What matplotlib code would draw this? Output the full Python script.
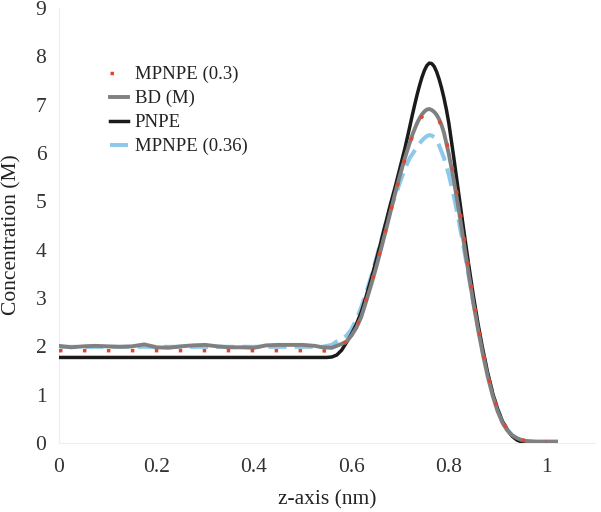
import matplotlib
matplotlib.use("Agg")
import matplotlib.pyplot as plt

SERIF = 'Liberation Serif'
plt.rcParams['font.family'] = 'serif'
plt.rcParams['font.serif'] = [SERIF, 'DejaVu Serif']

# ---- data ----
x_bd = [0.0, 0.025, 0.05, 0.075, 0.1, 0.125, 0.15, 0.175, 0.2, 0.225, 0.25, 0.275, 0.3,
        0.325, 0.35, 0.375, 0.4, 0.425, 0.45, 0.475, 0.5, 0.525, 0.54, 0.56, 0.58, 0.59,
        0.60, 0.61, 0.62, 0.63, 0.64, 0.65, 0.66, 0.67, 0.68, 0.69, 0.70, 0.71, 0.72, 0.725,
        0.73, 0.735, 0.74, 0.745, 0.75, 0.755, 0.76, 0.765, 0.77, 0.775, 0.78, 0.785, 0.79,
        0.80, 0.81, 0.82, 0.83, 0.84, 0.85, 0.86, 0.87, 0.88, 0.89, 0.90, 0.91, 0.92, 0.93,
        0.94, 0.95, 0.96, 0.98, 1.00, 1.02]
y_bd = [2.01, 1.98, 2.00, 2.01, 2.00, 1.99, 2.00, 2.04, 1.98, 1.97, 2.00, 2.02, 2.03,
        2.00, 1.98, 1.98, 1.97, 2.02, 2.03, 2.03, 2.03, 2.01, 1.98, 1.97, 2.05, 2.10,
        2.22, 2.38, 2.60, 2.92, 3.25, 3.60, 3.98, 4.37, 4.77, 5.17, 5.55, 5.90, 6.22, 6.37,
        6.50, 6.62, 6.72, 6.80, 6.86, 6.90, 6.91, 6.89, 6.85, 6.79, 6.70, 6.58, 6.42,
        5.98, 5.45, 4.85, 4.20, 3.55, 2.92, 2.35, 1.83, 1.37, 0.98, 0.66, 0.42, 0.26, 0.16,
        0.10, 0.06, 0.04, 0.03, 0.03, 0.03]

x_pnpe = [0.0, 0.55, 0.56, 0.57, 0.58, 0.59, 0.60, 0.61, 0.62, 0.63, 0.64, 0.65, 0.66, 0.67,
          0.68, 0.69, 0.70, 0.71, 0.72, 0.725, 0.73, 0.735, 0.74, 0.745, 0.75, 0.755, 0.76,
          0.765, 0.77, 0.775, 0.78, 0.785, 0.79, 0.795, 0.80, 0.81, 0.82, 0.83, 0.84, 0.85,
          0.86, 0.87, 0.88, 0.89, 0.90, 0.91, 0.92, 0.93, 0.94, 0.95, 0.96]
y_pnpe = [1.77, 1.77, 1.78, 1.82, 1.92, 2.08, 2.25, 2.45, 2.70, 3.02, 3.37, 3.74, 4.13, 4.53,
          4.93, 5.30, 5.70, 6.10, 6.55, 6.78, 7.00, 7.21, 7.40, 7.57, 7.71, 7.81, 7.86,
          7.85, 7.79, 7.68, 7.53, 7.35, 7.14, 6.90, 6.62, 5.92, 5.18, 4.45, 3.74, 3.07,
          2.46, 1.92, 1.44, 1.03, 0.70, 0.45, 0.27, 0.14, 0.06, 0.02, 0.01]

x_mp30 = [0.0, 0.54, 0.55, 0.56, 0.57, 0.58, 0.59, 0.60, 0.61, 0.62, 0.63, 0.64, 0.65, 0.66,
          0.67, 0.68, 0.69, 0.70, 0.71, 0.72, 0.73, 0.74, 0.745, 0.75, 0.755, 0.76, 0.765,
          0.77, 0.775, 0.78, 0.79, 0.80, 0.81, 0.82, 0.83, 0.84, 0.85, 0.86, 0.87, 0.88,
          0.89, 0.90, 0.91, 0.92, 0.93, 0.94, 0.95, 0.97, 1.00]
y_mp30 = [1.91, 1.91, 1.90, 1.90, 1.93, 2.00, 2.10, 2.22, 2.40, 2.62, 2.95, 3.28, 3.63, 4.00,
          4.38, 4.77, 5.16, 5.53, 5.88, 6.20, 6.47, 6.68, 6.75, 6.80, 6.83, 6.83, 6.82,
          6.79, 6.74, 6.67, 6.44, 6.05, 5.56, 4.98, 4.34, 3.68, 3.03, 2.44, 1.90, 1.42,
          1.02, 0.70, 0.45, 0.28, 0.17, 0.10, 0.06, 0.03, 0.03]

x_mp36 = [0.0, 0.54, 0.56, 0.57, 0.58, 0.59, 0.60, 0.61, 0.62, 0.63, 0.64, 0.65, 0.66, 0.67,
          0.68, 0.69, 0.70, 0.71, 0.72, 0.73, 0.74, 0.745, 0.75, 0.755, 0.76, 0.765, 0.77,
          0.775, 0.78, 0.79, 0.80, 0.81, 0.82, 0.83, 0.84, 0.85, 0.86, 0.87, 0.88, 0.89,
          0.90, 0.91, 0.92, 0.93, 0.94, 0.95, 0.97, 1.00]
y_mp36 = [1.99, 1.99, 2.03, 2.10, 2.15, 2.22, 2.35, 2.55, 2.80, 3.10, 3.42, 3.78, 4.15, 4.52,
          4.86, 5.10, 5.40, 5.68, 5.90, 6.05, 6.20, 6.26, 6.31, 6.35, 6.37, 6.36, 6.33,
          6.26, 6.16, 5.90, 5.55, 5.12, 4.62, 4.08, 3.50, 2.92, 2.38, 1.88, 1.42, 1.03,
          0.71, 0.46, 0.28, 0.16, 0.09, 0.05, 0.02, 0.02]

x_ticks = [0, 0.2, 0.4, 0.6, 0.8, 1.0]
x_ticklabels = ["0", "0.2", "0.4", "0.6", "0.8", "1"]
y_ticks = list(range(0, 10))

labels = ["MPNPE (0.3)", "BD (M)", "PNPE", "MPNPE (0.36)"]

# ---- figure ----
fig = plt.figure(figsize=(6.01, 5.12), dpi=100)
ax = fig.add_axes([59 / 601, 69 / 512, 536 / 601, 435 / 512])

l36, = ax.plot(x_mp36, y_mp36, color='#8ec8ea', lw=2.9, ls=(0, (4.5, 2.0)),
               dash_capstyle='butt', zorder=2)
lpn, = ax.plot(x_pnpe, y_pnpe, color='#1a1a1a', lw=2.5, zorder=3)
lbd, = ax.plot(x_bd, y_bd, color='#808080', lw=2.8, zorder=4)
l30, = ax.plot(x_mp30, y_mp30, color='#e5452c', lw=2.5, ls=(0, (1, 5.9)),
               dash_capstyle='butt', zorder=5)

ax.set_xlim(0, 1.1)
ax.set_ylim(0, 9)
ax.set_xticks(x_ticks)
ax.set_xticklabels(x_ticklabels, fontfamily=SERIF)
ax.set_yticks(y_ticks)
ax.set_yticklabels([str(v) for v in y_ticks], fontfamily=SERIF)
ax.tick_params(axis='both', length=0, labelsize=15.5, colors='#333333')
ax.tick_params(axis='y', pad=9)
ax.tick_params(axis='x', pad=11)

for s in ['top', 'right']:
    ax.spines[s].set_visible(False)
for s in ['left', 'bottom']:
    ax.spines[s].set_color('#eeeeee')
    ax.spines[s].set_linewidth(0.8)

ax.set_xlabel("z-axis (nm)", fontsize=15.5, color='#222222', fontfamily=SERIF)
ax.xaxis.set_label_coords(0.5, -0.131)
ax.xaxis.label.set_verticalalignment('center')
ax.set_ylabel("Concentration (M)", fontsize=15.5, color='#222222', fontfamily=SERIF)
ax.yaxis.set_label_coords(-0.088, 0.478)
ax.yaxis.label.set_verticalalignment('center')

leg = fig.legend([l30, lbd, lpn, l36], labels, loc='upper left',
                 bbox_to_anchor=(110 / 601, 1 - 66 / 512), frameon=False,
                 prop={'family': SERIF, 'size': 13.5},
                 handlelength=0.96, handletextpad=0.37,
                 labelspacing=0.36, borderpad=0, borderaxespad=0)
for t in leg.get_texts():
    t.set_color('#222222')

fig.savefig("out.png", dpi=100)
